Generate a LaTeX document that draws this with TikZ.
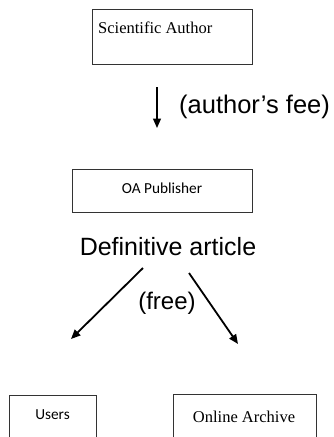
\documentclass[tikz,border=0pt]{standalone}
\usepackage{fontspec}
\setmainfont{Liberation Serif}
\newfontfamily\calibrifont{Carlito}
\newfontfamily\arialfont{Liberation Sans}
\usetikzlibrary{arrows.meta}

\tikzset{
  boxnode/.style={draw=black!80, line width=0.9pt, inner sep=0pt},
  serifnode/.style={font=\fontsize{16.5}{19}\selectfont, inner sep=0pt},
  calnode/.style={font=\calibrifont\fontsize{15.3}{18}\selectfont, inner sep=0pt},
  bignode/.style={font=\arialfont\fontsize{25}{28}\selectfont, inner sep=0pt},
  flowarrow/.style={-{Triangle[length=9.5pt,width=8pt]}, line width=1.8pt},
}

\begin{document}
\begin{tikzpicture}[x=1pt,y=1pt,yscale=-1,xscale=1]
\useasboundingbox (0,0) rectangle (334,437);
\clip (0,0) rectangle (334,437);

%Shape: Rectangles
\node[boxnode, minimum width=160, minimum height=55] (author) at (172,36.5) {};
\node[boxnode, minimum width=180, minimum height=43] (publisher) at (162,190.5) {};
\node[boxnode, minimum width=87, minimum height=80] (users) at (52.5,435) {};
\node[boxnode, minimum width=143, minimum height=80] (archive) at (244.5,434) {};

% Text Nodes
\node[serifnode, anchor=base west] (author text) at (98,33) {Scientific Author};
\node[calnode, anchor=base] (publisher text) at (162,193) {OA Publisher};
\node[calnode, anchor=base] (users text) at (52.5,419) {Users};
\node[serifnode, anchor=base] (archive text) at (244,422) {Online Archive};
\node[bignode, font=\arialfont\fontsize{25.5}{28}\selectfont, anchor=base west] (fee) at (179,113) {(author’s fee)};
\node[bignode, anchor=base] (article) at (168,255) {Definitive article};
\node[bignode, font=\arialfont\fontsize{24}{27}\selectfont, anchor=base] (free) at (167,309) {(free)};

%Straight Lines
\coordinate (fee start) at (157,87);
\coordinate (fee end) at (157,128);
\draw[flowarrow, line width=1.3pt] (fee start) -- (fee end);
\coordinate (left start) at (143,268);
\coordinate (left end) at (71,339);
\draw[flowarrow] (left start) -- (left end);
\coordinate (right start) at (189,273);
\coordinate (right end) at (238,344);
\draw[flowarrow] (right start) -- (right end);

\end{tikzpicture}
\end{document}
